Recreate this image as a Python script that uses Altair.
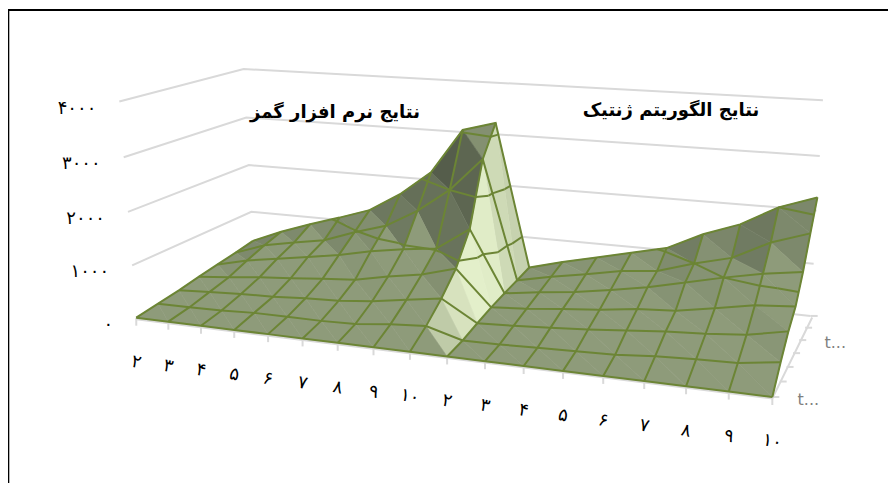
import numpy as np, pandas as pd, math
import altair as alt

# ---- chart values ----
categories = ["۲","۳","۴","۵","۶","۷","۸","۹","۱۰","۲","۳","۴","۵","۶","۷","۸","۹","۱۰"]
value_labels = ["۰","۱۰۰۰","۲۰۰۰","۳۰۰۰","۴۰۰۰"]
value_ticks = [0,1000,2000,3000,4000]
series_labels = ["t...","t..."]
title_left = "نتایج نرم افزار گمز"
title_right = "نتایج الگوریتم ژنتیک"

row0 = [0]*18
row1 = [55,60,70,100,100,100,120,190,235, 50,60,80,100,120,180,210,230,330]
row2 = [110,150,180,200,240,265,330,430,530, 140,170,210,260,320,380,420,480,620]
row3 = [180,240,310,360,420,470,600,710,890, 220,270,340,400,490,530,650,780,830]
row4 = [240,390,490,590,700,840,940,1020,1460, 280,370,450,560,680,840,1000,1140,1240]
row5 = [300,520,640,750,980,1170,1530,2000,2650, 330,470,590,720,790,1000,1170,1520,1750]
row6 = [370,630,850,1050,1265,1650,2150,3040,3220, 390,570,725,885,1040,1370,1620,2000,2240]
Z = np.array([row0,row1,row2,row3,row4,row5,row6],dtype=float)
NC, NR = Z.shape[1], Z.shape[0]

# ---- perspective camera calibrated on the box corners ----
cal3d = [(0,0,0),(0,0,4000),(17,0,0),(17,6,0),(17,6,4000),(0,6,0),(0,6,4000),(8,0,0)]
cal2d = [(135,318),(120,103),(773,397),(810,317),(823,100),(255,258),(243,68),(410,350)]
A,b=[],[]
for (u,v,z),(x,y) in zip(cal3d,cal2d):
    A.append([u,v,z/1000,1,0,0,0,0,-x*u,-x*v,-x*z/1000]); b.append(x)
    A.append([0,0,0,0,u,v,z/1000,1,-y*u,-y*v,-y*z/1000]); b.append(y)
P=np.linalg.lstsq(np.array(A,float),np.array(b,float),rcond=None)[0]
def proj(u,v,z):
    z=z/1000
    w=P[8]*u+P[9]*v+P[10]*z+1
    return ((P[0]*u+P[1]*v+P[2]*z+P[3])/w,(P[4]*u+P[5]*v+P[6]*z+P[7])/w)

def lerp(a,b,f): return tuple(a[k]+(b[k]-a[k])*f for k in range(3))
BASE=(142,155,122); DARK=(74,82,66); LIGHT=(233,244,207)
def shade(su):
    if su>=0:
        c=lerp(BASE,DARK,1-math.exp(-max(su-110,0)/420))
    else:
        f=1-math.exp(su/240)
        if su<-700: f*=1-0.38*min(1,(-su-700)/2100)
        c=lerp(BASE,LIGHT,f)
    return "#%02x%02x%02x"%tuple(int(round(q)) for q in c)

# triangles, back to front
tri=[]; pid=0
def add_tri(nodes,su):
    global pid
    col=shade(su)
    for k,(i,r) in enumerate(nodes+[nodes[0]]):
        x,y=proj(i,r,Z[r,i])
        tri.append(dict(pid=pid,k=k,x=x,y=y,c=col))
    pid+=1
for r in range(NR-2,-1,-1):
    for i in range(NC-2,-1,-1):
        add_tri([(i,r+1),(i+1,r+1),(i+1,r)], Z[r+1,i+1]-Z[r+1,i])
        add_tri([(i,r+1),(i,r),(i+1,r)], Z[r,i+1]-Z[r,i])
tri=pd.DataFrame(tri)

# mesh lines
mesh=[]; lid=0
for r in range(NR):
    for i in range(NC):
        x,y=proj(i,r,Z[r,i]); mesh.append(dict(l=lid,k=i,x=x,y=y))
    lid+=1
for i in range(NC):
    for r in range(NR):
        x,y=proj(i,r,Z[r,i]); mesh.append(dict(l=lid,k=r,x=x,y=y))
    lid+=1
# band contour lines
def cross(a,b,lv):
    za,zb=Z[a[1],a[0]],Z[b[1],b[0]]
    if (za-lv)*(zb-lv)<0:
        t=(lv-za)/(zb-za)
        return proj(a[0]+(b[0]-a[0])*t,a[1]+(b[1]-a[1])*t,lv)
    return None
for lv in [1000,2000,3000]:
    for r in range(NR-1):
        for i in range(NC-1):
            for T in ([(i,r+1),(i+1,r+1),(i+1,r)],[(i,r+1),(i,r),(i+1,r)]):
                pts=[cross(T[a],T[(a+1)%3],lv+0.5) for a in range(3)]
                pts=[p for p in pts if p]
                if len(pts)==2:
                    for k,p in enumerate(pts): mesh.append(dict(l=lid,k=k,x=p[0],y=p[1]))
                    lid+=1
mesh=pd.DataFrame(mesh)

# walls and ticks
grid=[]; gid=0
for z in value_ticks:
    for k,(u,v) in enumerate([(0,0),(0,6),(17,6)]):
        x,y=proj(u,v,z); grid.append(dict(l=gid,k=k,x=x,y=y))
    gid+=1
for k,(u,v) in enumerate([(0,0),(17,0),(17,6)]):
    x,y=proj(u,v,0); grid.append(dict(l=gid,k=k,x=x+(1.5 if u==17 and v==6 else 0),y=y+1.5))
gid+=1
for i in range(NC):
    x,y=proj(i,0,0)
    grid.append(dict(l=gid,k=0,x=x,y=y)); grid.append(dict(l=gid,k=1,x=x,y=y+8)); gid+=1
for r in range(NR):
    x,y=proj(17,r,0)
    grid.append(dict(l=gid,k=0,x=x,y=y)); grid.append(dict(l=gid,k=1,x=x+7,y=y)); gid+=1
grid=pd.DataFrame(grid)

frame=pd.DataFrame([dict(l=0,k=0,x=8.3,y=483),dict(l=0,k=1,x=8.3,y=10),dict(l=0,k=2,x=896,y=10)])

xl=pd.DataFrame([dict(t=categories[i],x=proj(i,0,0)[0],y=proj(i,0,0)[1]) for i in range(NC)])
vl=pd.DataFrame([dict(t=t,x=proj(0,0,z)[0],y=proj(0,0,z)[1]) for t,z in zip(value_labels,value_ticks)])
sl=pd.DataFrame([dict(t=series_labels[0],x=proj(17,0,0)[0],y=proj(17,0,0)[1]),
                 dict(t=series_labels[1],x=proj(17,4,0)[0],y=proj(17,4,0)[1])])
tl=pd.DataFrame([dict(t=title_left,x=335,y=113),dict(t=title_right,x=671,y=111)])

X=alt.X("x:Q",scale=alt.Scale(domain=[12,888],nice=False,zero=False),axis=None)
Y=alt.Y("y:Q",scale=alt.Scale(domain=[483,8],nice=False,zero=False),axis=None)

frame_l=alt.Chart(frame).mark_line(color="black",strokeWidth=2).encode(x=X,y=Y,order="k:Q",detail="l:N")
grid_l=alt.Chart(grid).mark_line(color="#d9d9d9",strokeWidth=2).encode(x=X,y=Y,order="k:Q",detail="l:N")
tri_l=alt.Chart(tri).mark_line(strokeWidth=0.6).encode(x=X,y=Y,order="k:Q",detail="pid:N",
        fill=alt.Fill("c:N",scale=None),stroke=alt.Stroke("c:N",scale=None))
mesh_l=alt.Chart(mesh).mark_line(color="#6c8535",strokeWidth=2).encode(x=X,y=Y,order="k:Q",detail="l:N")

FONT="DejaVu Sans"
xt=alt.Chart(xl).mark_text(font=FONT,fontSize=18,color="black",angle=12,dx=9.3,dy=44,align="center",baseline="middle").encode(x=X,y=Y,text="t:N")
vt=alt.Chart(vl).mark_text(font=FONT,fontSize=18,color="black",dx=-23,dy=7,align="right",baseline="middle").encode(x=X,y=Y,text="t:N")
st=alt.Chart(sl).mark_text(font=FONT,fontSize=16,color="#808080",dx=36,dy=3,align="center",baseline="middle").encode(x=X,y=Y,text="t:N")
tt=alt.Chart(tl).mark_text(font=FONT,fontSize=18,fontWeight="bold",color="black",align="center",baseline="middle").encode(x=X,y=Y,text="t:N")

chart=alt.layer(grid_l,tri_l,mesh_l,frame_l,xt,vt,st,tt).properties(
    width=876,height=475,padding={"left":4,"top":0,"right":0,"bottom":0},
    autosize=alt.AutoSizeParams(type="none"),background="white"
).configure_view(strokeWidth=0)
chart.save("out.html",embed_options={"renderer":"svg","actions":False})
